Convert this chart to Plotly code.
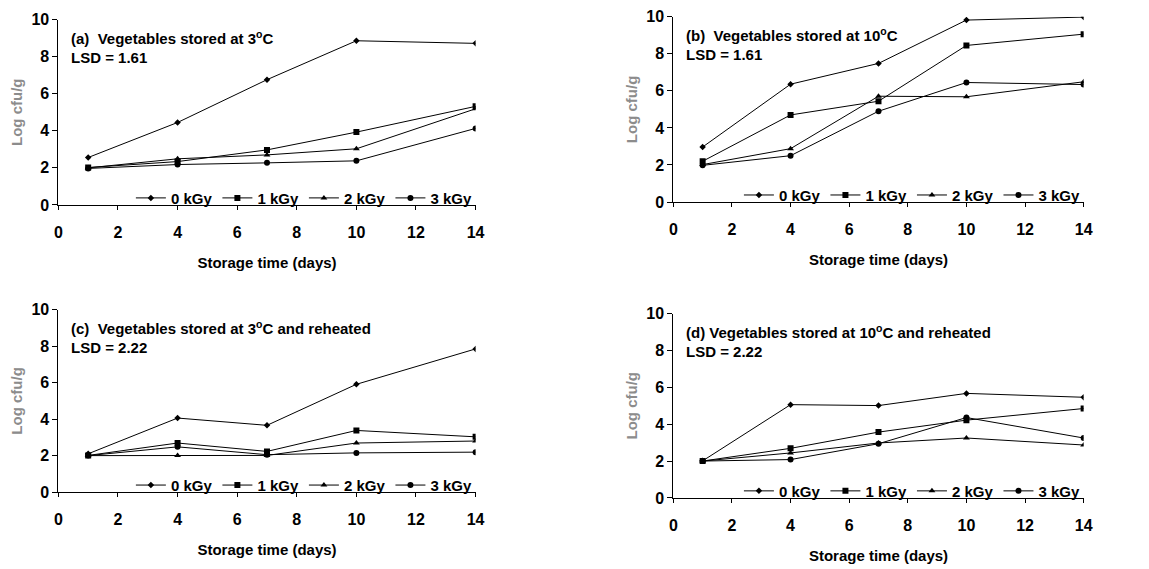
import plotly.graph_objects as go

days = [1, 4, 7, 10, 14]
doses = ["0 kGy", "1 kGy", "2 kGy", "3 kGy"]
symbols = ["diamond", "square", "triangle-up", "circle"]
marker_sizes = [5, 6, 6, 6]

# Panel (a) Vegetables stored at 3 C
a_0kGy = [2.56, 4.45, 6.76, 8.86, 8.72]
a_1kGy = [2.02, 2.34, 2.97, 3.93, 5.32]
a_2kGy = [2.00, 2.49, 2.70, 3.03, 5.19]
a_3kGy = [1.97, 2.18, 2.27, 2.38, 4.13]

# Panel (b) Vegetables stored at 10 C
b_0kGy = [2.97, 6.36, 7.48, 9.82, 9.98]
b_1kGy = [2.20, 4.70, 5.44, 8.45, 9.06]
b_2kGy = [2.02, 2.88, 5.71, 5.68, 6.49]
b_3kGy = [1.98, 2.50, 4.90, 6.45, 6.34]

# Panel (c) Vegetables stored at 3 C and reheated
c_0kGy = [2.10, 4.06, 3.66, 5.91, 7.85]
c_1kGy = [2.01, 2.69, 2.23, 3.38, 3.03]
c_2kGy = [2.00, 2.01, 2.01, 2.69, 2.80]
c_3kGy = [2.00, 2.48, 2.05, 2.15, 2.19]

# Panel (d) Vegetables stored at 10 C and reheated
d_0kGy = [2.01, 5.06, 5.01, 5.67, 5.46]
d_1kGy = [2.00, 2.69, 3.57, 4.22, 4.85]
d_2kGy = [2.00, 2.44, 2.98, 3.25, 2.87]
d_3kGy = [2.00, 2.08, 2.94, 4.36, 3.25]

panel_titles = [
    "(a)  Vegetables stored at 3<sup>o</sup>C",
    "(b)  Vegetables stored at 10<sup>o</sup>C",
    "(c)  Vegetables stored at 3<sup>o</sup>C and reheated",
    "(d) Vegetables stored at 10<sup>o</sup>C and reheated",
]
lsd_labels = ["LSD = 1.61", "LSD = 1.61", "LSD = 2.22", "LSD = 2.22"]
x_title = "Storage time (days)"
y_title = "Log cfu/g"

panels = [
    [a_0kGy, a_1kGy, a_2kGy, a_3kGy],
    [b_0kGy, b_1kGy, b_2kGy, b_3kGy],
    [c_0kGy, c_1kGy, c_2kGy, c_3kGy],
    [d_0kGy, d_1kGy, d_2kGy, d_3kGy],
]

W, H = 1149, 569
# pixel geometry of each plot area: (left, right, top, bottom)
geom = [
    (55, 477, 12, 203),
    (677, 1092, 9, 200),
    (55, 477, 311, 499),
    (677, 1092, 315, 505),
]

FONT = "Liberation Sans, Arial, sans-serif"
fig = go.Figure()
layout = {}
annotations = []

for i, series in enumerate(panels):
    n = "" if i == 0 else str(i + 1)
    xa, ya = "x" + n, "y" + n
    lg = "legend" + n
    for j, vals in enumerate(series):
        fig.add_trace(go.Scatter(
            x=days, y=vals, mode="lines+markers", name=doses[j],
            xaxis=xa, yaxis=ya, legend=lg,
            line=dict(color="black", width=1),
            marker=dict(symbol=symbols[j], size=marker_sizes[j], color="black"),
        ))
    l, r, t, b = geom[i]
    layout["xaxis" + n] = dict(
        domain=[l / W, r / W], anchor=ya, range=[0, 14], tick0=0, dtick=2,
        showline=True, linecolor="black", linewidth=1, ticks="outside",
        ticklen=4, tickcolor="black", showgrid=False, zeroline=False,
        tickfont=dict(family=FONT, size=16, color="black", weight="bold"),
        ticklabelstandoff=9,
        title=dict(text=x_title, standoff=17,
                   font=dict(family=FONT, size=15, color="black", weight="bold")),
    )
    layout["yaxis" + n] = dict(
        domain=[1 - b / H, 1 - t / H], anchor=xa, range=[0, 10], tick0=0, dtick=2,
        showline=True, linecolor="black", linewidth=1, ticks="outside",
        ticklen=5, tickcolor="black", showgrid=False, zeroline=False,
        tickfont=dict(family=FONT, size=16, color="black", weight="bold"),
        title=dict(text=y_title, standoff=5,
                   font=dict(family=FONT, size=15, color="#8c8c8c", weight="bold")),
    )
    layout[lg] = dict(
        orientation="h", x=r / W + 0.002, xanchor="right",
        y=1 - (b - 7) / H, yanchor="middle",
        bgcolor="rgba(0,0,0,0)", borderwidth=0, itemwidth=30,
        font=dict(family=FONT, size=15, color="black", weight="bold"),
        tracegroupgap=0,
    )
    ph = b - t
    annotations.append(dict(
        text=panel_titles[i], xref=xa + " domain", yref=ya + " domain",
        x=11 / (r - l), y=1 - 18 / ph, xanchor="left", yanchor="middle",
        showarrow=False, align="left",
        font=dict(family=FONT, size=15, color="black", weight="bold"),
    ))
    annotations.append(dict(
        text=lsd_labels[i], xref=xa + " domain", yref=ya + " domain",
        x=11 / (r - l), y=1 - 39 / ph, xanchor="left", yanchor="middle",
        showarrow=False, align="left",
        font=dict(family=FONT, size=15, color="black", weight="bold"),
    ))

fig.update_layout(
    width=W, height=H, margin=dict(l=0, r=0, t=0, b=0),
    paper_bgcolor="white", plot_bgcolor="white",
    annotations=annotations, showlegend=True,
    **layout,
)
fig.write_html("out.html")
